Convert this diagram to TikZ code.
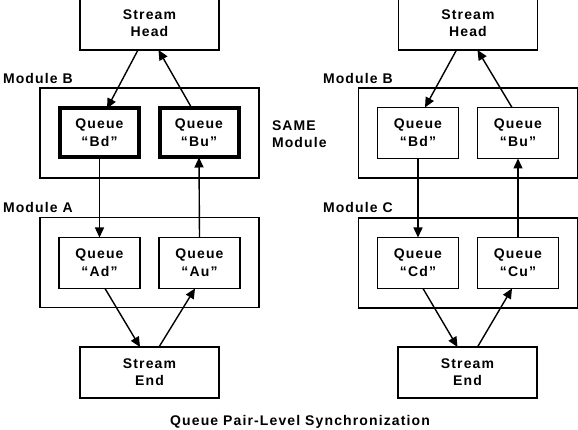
\documentclass[tikz,border=0pt]{standalone}
\usepackage{fontspec}
\newfontfamily\lbl[LetterSpace=8]{Liberation Sans}
\usetikzlibrary{arrows.meta}
\begin{document}
\begin{tikzpicture}[x=1pt,y=-1pt,
  every node/.style={font=\lbl\bfseries\fontsize{14}{17}\selectfont, inner sep=0pt, outer sep=0pt},
  endbox/.style={draw, line width=1.3pt, minimum width=139pt, minimum height=51pt, align=center},
  modbox/.style={draw, line width=1.7pt, minimum width=219pt, minimum height=90pt},
  qbox/.style={draw, line width=1.3pt, minimum width=81pt, minimum height=51pt, align=center, font=\lbl\bfseries\fontsize{14}{18}\selectfont},
  qthick/.style={qbox, line width=4pt, minimum width=79pt, minimum height=49pt},
  lab/.style={anchor=west},
  arr/.style={line width=1.4pt, -{Triangle[length=10pt,width=9pt]}}
]
\useasboundingbox (0,0) rectangle (578,430);
\clip (0,0) rectangle (578,430);
% ---------- left ----------
\node[endbox, minimum height=54pt] (lhead) at (149.5,23) {Stream\\Head};
\node[modbox] (lmodB) at (149.5,133) {};
\node[qthick] (lBd) at (99.5,133) {Queue\\“Bd”};
\node[qthick] (lBu) at (199,133) {Queue\\“Bu”};
\node[modbox] (lmodA) at (149.5,262.5) {};
\node[qbox] (lAd) at (99.5,263) {Queue\\“Ad”};
\node[qbox] (lAu) at (199.5,263) {Queue\\“Au”};
\node[endbox] (lend) at (149.5,372.5) {Stream\\End};
\node[lab] (lmB) at (3,78) {Module B};
\node[lab] (lmA) at (3,207) {Module A};
\node[lab, align=left] (same) at (272,134.5) {SAME\\Module};
% ---------- right ----------
\node[endbox, minimum height=54pt] (rhead) at (468,23) {Stream\\Head};
\node[modbox] (rmodB) at (468,133) {};
\node[qbox] (rBd) at (418,133) {Queue\\“Bd”};
\node[qbox] (rBu) at (518,133) {Queue\\“Bu”};
\node[modbox] (rmodC) at (468,263) {};
\node[qbox] (rCd) at (418,263) {Queue\\“Cd”};
\node[qbox] (rCu) at (518,263) {Queue\\“Cu”};
\node[endbox] (rend) at (467.5,372.5) {Stream\\End};
\node[lab] (rmB) at (323,78) {Module B};
\node[lab] (rmC) at (323,207) {Module C};
% caption
\node (cap) at (300,422) {Queue Pair-Level Synchronization};
% ---------- arrows left ----------
\draw[arr] ([xshift=-11.5pt]lhead.south) -- ([xshift=7.5pt]lBd.north);
\draw[arr] ([xshift=-7pt]lBu.north) -- ([xshift=9pt]lhead.south);
\draw[arr] (lBd.south) -- (lAd.north);
\draw[arr] (lAu.north) -- (lBu.south);
\draw[arr] ([xshift=5.5pt]lAd.south) -- ([xshift=-9.5pt]lend.north);
\draw[arr] ([xshift=9.5pt]lend.north) -- ([xshift=-4.5pt]lAu.south);
% ---------- arrows right ----------
\draw[arr] ([xshift=-11.5pt]rhead.south) -- ([xshift=7pt]rBd.north);
\draw[arr] ([xshift=-6pt]rBu.north) -- ([xshift=9.5pt]rhead.south);
\draw[arr] (rBd.south) -- (rCd.north);
\draw[arr] (rCu.north) -- (rBu.south);
\draw[arr] ([xshift=5pt]rCd.south) -- ([xshift=-10pt]rend.north);
\draw[arr] ([xshift=10pt]rend.north) -- ([xshift=-6pt]rCu.south);
\end{tikzpicture}
\end{document}
